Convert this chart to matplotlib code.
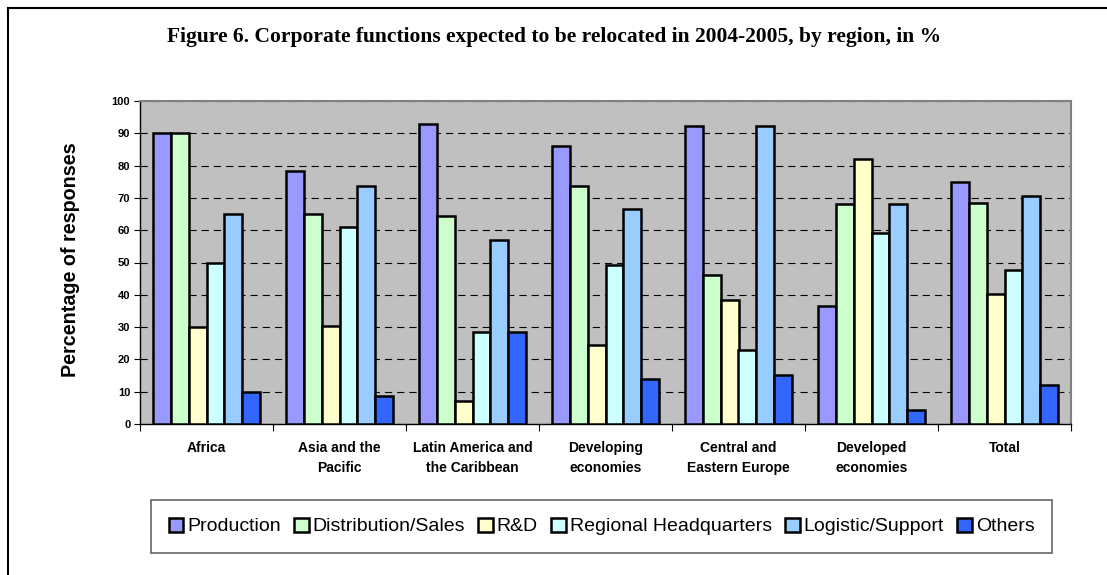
import matplotlib
matplotlib.use("Agg")
import matplotlib.pyplot as plt
import numpy as np
from matplotlib.lines import Line2D

categories = ["Africa", "Asia and the\nPacific", "Latin America and\nthe Caribbean",
              "Developing\neconomies", "Central and\nEastern Europe", "Developed\neconomies", "Total"]
series_names = ["Production", "Distribution/Sales", "R&D", "Regional Headquarters",
                "Logistic/Support", "Others"]
production = [90, 78.3, 92.9, 86, 92.4, 36.4, 75]
distribution = [90, 65.1, 64.3, 73.7, 46.2, 68.2, 68.5]
rnd = [30, 30.3, 7, 24.4, 38.4, 81.9, 40.2]
regional_hq = [50, 61, 28.5, 49.2, 23, 59, 47.8]
logistic = [65, 73.8, 57.1, 66.7, 92.4, 68.2, 70.6]
others = [10, 8.7, 28.5, 14, 15.3, 4.4, 12]
values = [production, distribution, rnd, regional_hq, logistic, others]
colors = ["#9999FF", "#CCFFCC", "#FFFFCC", "#CCFFFF", "#99CCFF", "#3366FF"]

W, H = 1107, 575
fig = plt.figure(figsize=(W / 100, H / 100), dpi=100)
ax = fig.add_axes([140 / W, 1 - 424 / H, (1071 - 140) / W, (424 - 101) / H])
ax.set_facecolor("#C0C0C0")

n = len(series_names)
bw = 0.8 / n
x = np.arange(len(categories))
handles = []
for i, (vals, c, name) in enumerate(zip(values, colors, series_names)):
    b = ax.bar(x - 0.4 + bw * (i + 0.5), vals, width=bw, color=c, edgecolor="black",
               linewidth=1.8, zorder=3, label=name)
    handles.append(b)

ax.set_xlim(-0.5, len(categories) - 0.5)
ax.set_ylim(0, 100)
ax.set_yticks(np.arange(0, 101, 10))
ax.yaxis.grid(True, color="black", linestyle=(0, (6.5, 4.5)), linewidth=0.8, zorder=1)
ax.set_axisbelow(True)

ax.set_xticks(np.arange(-0.5, len(categories), 1.0))
ax.set_xticklabels([])
ax.set_xticks(x, minor=True)
ax.set_xticklabels(categories, minor=True, fontfamily="Liberation Sans", fontweight="bold",
                   fontsize=10, linespacing=1.6)
ax.tick_params(axis="x", which="major", direction="out", length=5, width=0.8, color="black")
ax.tick_params(axis="x", which="minor", length=0, pad=12)
ax.tick_params(axis="y", direction="out", length=4, width=0.8, pad=3)
for lab in ax.get_yticklabels():
    lab.set_fontfamily("Liberation Sans")
    lab.set_fontweight("bold")
    lab.set_fontsize(8)

for s in ["top", "right"]:
    ax.spines[s].set_color("#808080")
    ax.spines[s].set_linewidth(1.5)
for s in ["left", "bottom"]:
    ax.spines[s].set_color("black")
    ax.spines[s].set_linewidth(1.0)

fig.text(71 / W, 1 - 260 / H, "Percentage of responses", rotation=90, ha="center", va="center",
         fontfamily="Liberation Sans", fontweight="bold", fontsize=14.2)
fig.text(554 / W, 1 - 37 / H,
         "Figure 6. Corporate functions expected to be relocated in 2004-2005, by region, in %",
         ha="center", va="center", fontfamily="Liberation Serif", fontweight="bold", fontsize=15.5)

leg = fig.legend(handles=handles, labels=series_names, loc="center",
                 bbox_to_anchor=(151 / W, 1 - 558 / H, (1052 - 151) / W, (558 - 495) / H),
                 mode="expand", ncol=6, frameon=True, fancybox=False,
                 prop={"family": "Liberation Sans", "size": 14},
                 handlelength=0.75, handleheight=0.75, handletextpad=0.2, columnspacing=0.6,
                 borderaxespad=0, borderpad=0.9)
leg.get_frame().set_edgecolor("#404040")
leg.get_frame().set_linewidth(1.2)
for h in leg.legend_handles:
    h.set_linewidth(1.8)

fig.add_artist(Line2D([8 / W, 1.0], [1 - 8 / H, 1 - 8 / H], transform=fig.transFigure,
                      color="black", linewidth=1.5))
fig.add_artist(Line2D([8 / W, 8 / W], [1 - 8 / H, 0.0], transform=fig.transFigure,
                      color="black", linewidth=1.5))

fig.savefig("out.png", dpi=100)
